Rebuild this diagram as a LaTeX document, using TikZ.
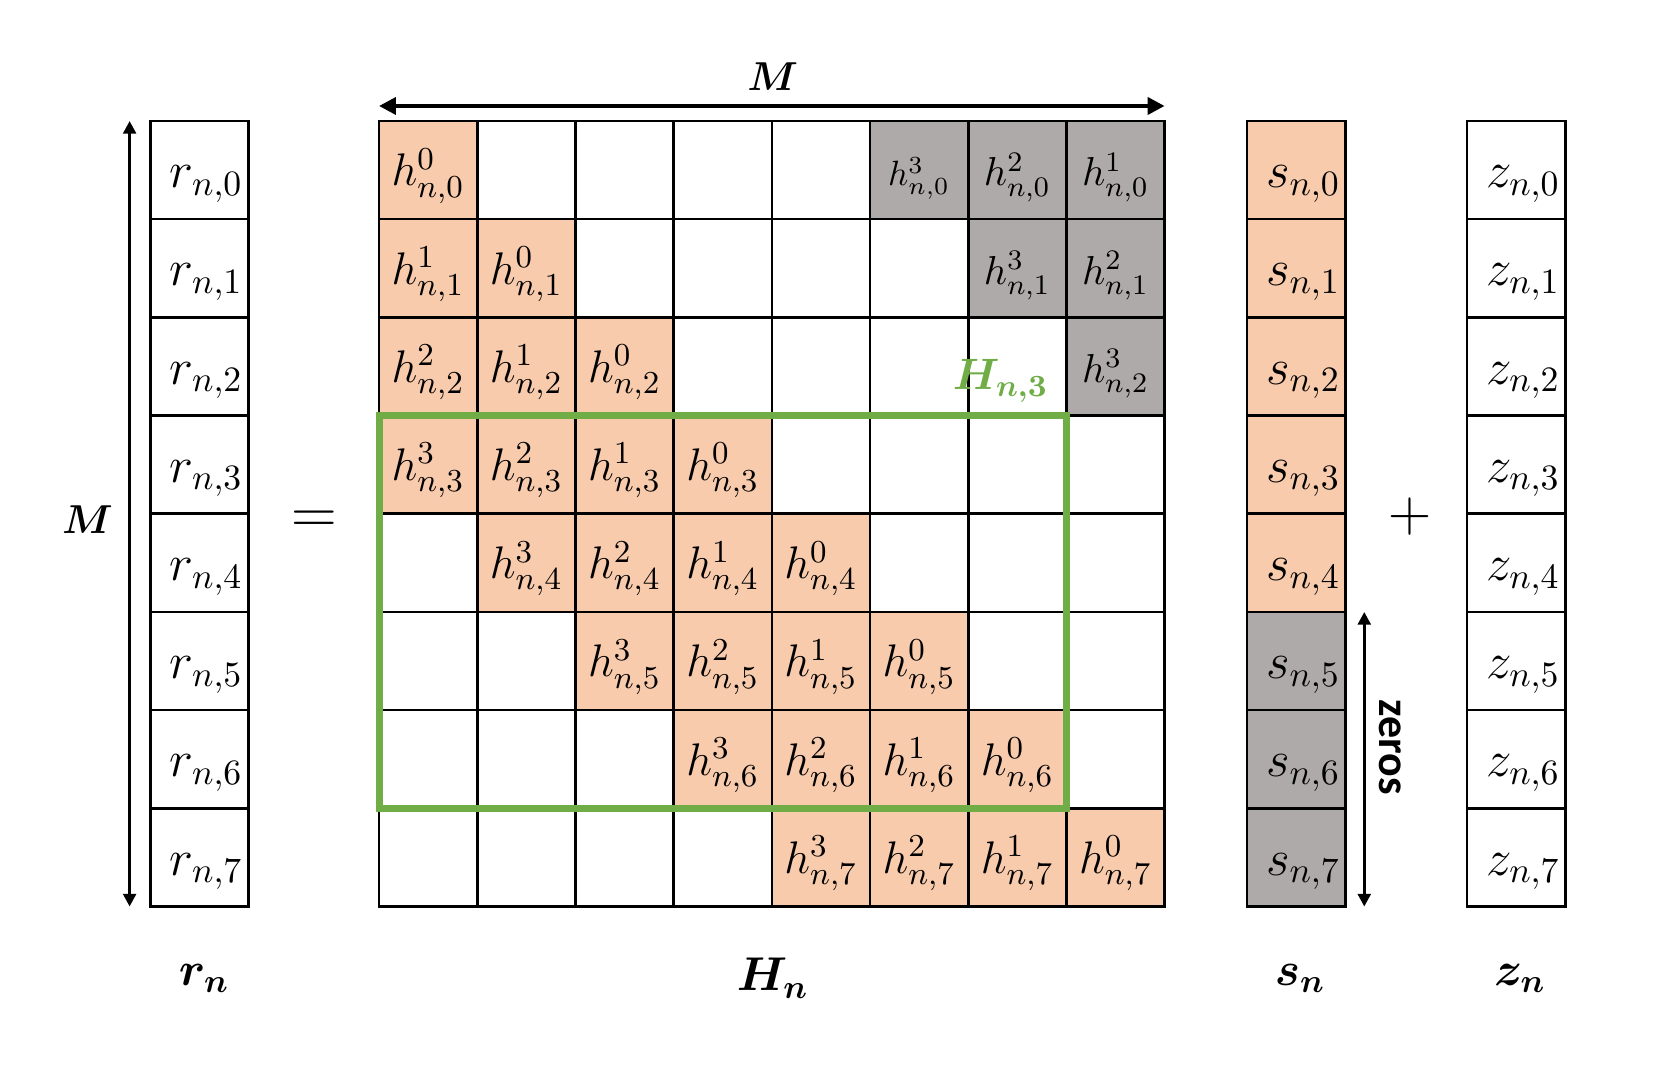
\RequirePackage{fix-cm}
\documentclass[tikz,border=0pt]{standalone}
\usepackage{amsmath,bm}
\usepackage{fontspec}
\newfontfamily\zerosfont{Carlito}
\usetikzlibrary{arrows.meta}

\definecolor{tapfill}{HTML}{F8CBAD}
\definecolor{wrapfill}{HTML}{AEAAAA}
\definecolor{subgreen}{HTML}{70AD47}

\tikzset{
  cell/.style={draw=black, line width=0.75pt, fill=white, minimum size=0.982cm,
    inner sep=0pt, outer sep=0pt, anchor=north west, text height=9pt, text depth=0pt,
    font=\fontsize{13}{16}\selectfont},
  tapcell/.style={cell, fill=tapfill},
  wrapcell/.style={cell, fill=wrapfill},
  veccell/.style={cell, text height=10pt, font=\fontsize{14.5}{17}\selectfont,
    execute at begin node={\hspace*{4pt}}},
  veclabel/.style={font=\fontsize{13.5}{16}\selectfont},
  dimarrow/.style={{Triangle[length=3.6pt,width=3.6pt]}-{Triangle[length=3.6pt,width=3.6pt]}, line width=0.9pt},
  widearrow/.style={{Triangle[length=4.8pt,width=4.8pt]}-{Triangle[length=4.8pt,width=4.8pt]}, line width=1.1pt},
}

\begin{document}
\begin{tikzpicture}[x=0.982cm, y=0.982cm]
    \useasboundingbox (-3.86,-9.633) rectangle (13.045,1.232);

    % --- Received vector r_n ---
    \foreach \i in {0,...,7}
        \node[veccell] (r\i) at (-2.33,-\i) {$r_{n,\i}$};

    % --- Channel matrix H_n (orange = taps, grey = wrap-around taps) ---
    \foreach \i in {0,...,7} {
        \foreach \j in {0,...,7} {
            \pgfmathtruncatemacro{\k}{mod(\i-\j+8,8)}
            \ifnum\k>3
                \node[cell] (h\i\j) at (\j,-\i) {};
            \else\ifnum\j>\i
                \ifnum\j=5 \def\wrapfont{\fontsize{10}{12}\selectfont}\else\def\wrapfont{\fontsize{11.5}{14}\selectfont}\fi
                \node[wrapcell, font=\wrapfont] (h\i\j) at (\j,-\i) {$h^{\k}_{n,\i}$};
            \else
                \node[tapcell] (h\i\j) at (\j,-\i) {$h^{\k}_{n,\i}$};
            \fi\fi
        }
    }

    % --- Sub-block H_{n,3} ---
    \draw[subgreen, line width=2pt] (h30.north west) rectangle (h66.south east);
    \node[font=\fontsize{12.5}{15}\selectfont, text=subgreen] (hsub) at (6.33,-2.65) {$\bm{H_{n,3}}$};

    % --- Signal vector s_n and noise vector z_n ---
    \foreach \i in {0,...,7} {
        \ifnum\i<5
            \node[veccell, fill=tapfill] (s\i) at (8.84,-\i) {$s_{n,\i}$};
        \else
            \node[veccell, fill=wrapfill] (s\i) at (8.84,-\i) {$s_{n,\i}$};
        \fi
        \node[veccell] (z\i) at (11.08,-\i) {$z_{n,\i}$};
    }

    % --- Dimension arrows ---
    \draw[widearrow] ([yshift=0.15cm]h00.north west) -- ([yshift=0.15cm]h07.north east);
    \node[font=\fontsize{11.5}{14}\selectfont] (mtop) at (4.01,0.45) {$\bm{M}$};

    \coordinate (mup) at (-2.54,0);
    \coordinate (mdown) at (-2.54,-8);
    \draw[dimarrow] (mdown) -- (mup);
    \node[font=\fontsize{11.5}{14}\selectfont] (mleft) at (-2.97,-4.06) {$\bm{M}$};

    \draw[dimarrow] ([xshift=0.19cm]s5.north east) -- ([xshift=0.19cm]s7.south east);
    \node[rotate=-90, font=\zerosfont\bfseries\fontsize{12.5}{15}\selectfont] (zeros) at (10.30,-6.38) {zeros};

    % --- Operators ---
    \node[font=\fontsize{18}{20}\selectfont] (eq) at (-0.66,-4.09) {$=$};
    \node[font=\fontsize{17}{20}\selectfont] (plus) at (10.50,-4.03) {$+$};

    % --- Vector / matrix names ---
    \node[veclabel] (rn) at (-1.78,-8.73) {$\bm{r_n}$};
    \node[veclabel] (Hn) at (4.01,-8.73) {$\bm{H_n}$};
    \node[veclabel] (sn) at (9.38,-8.73) {$\bm{s_n}$};
    \node[veclabel] (zn) at (11.62,-8.73) {$\bm{z_n}$};

\end{tikzpicture}
\end{document}
